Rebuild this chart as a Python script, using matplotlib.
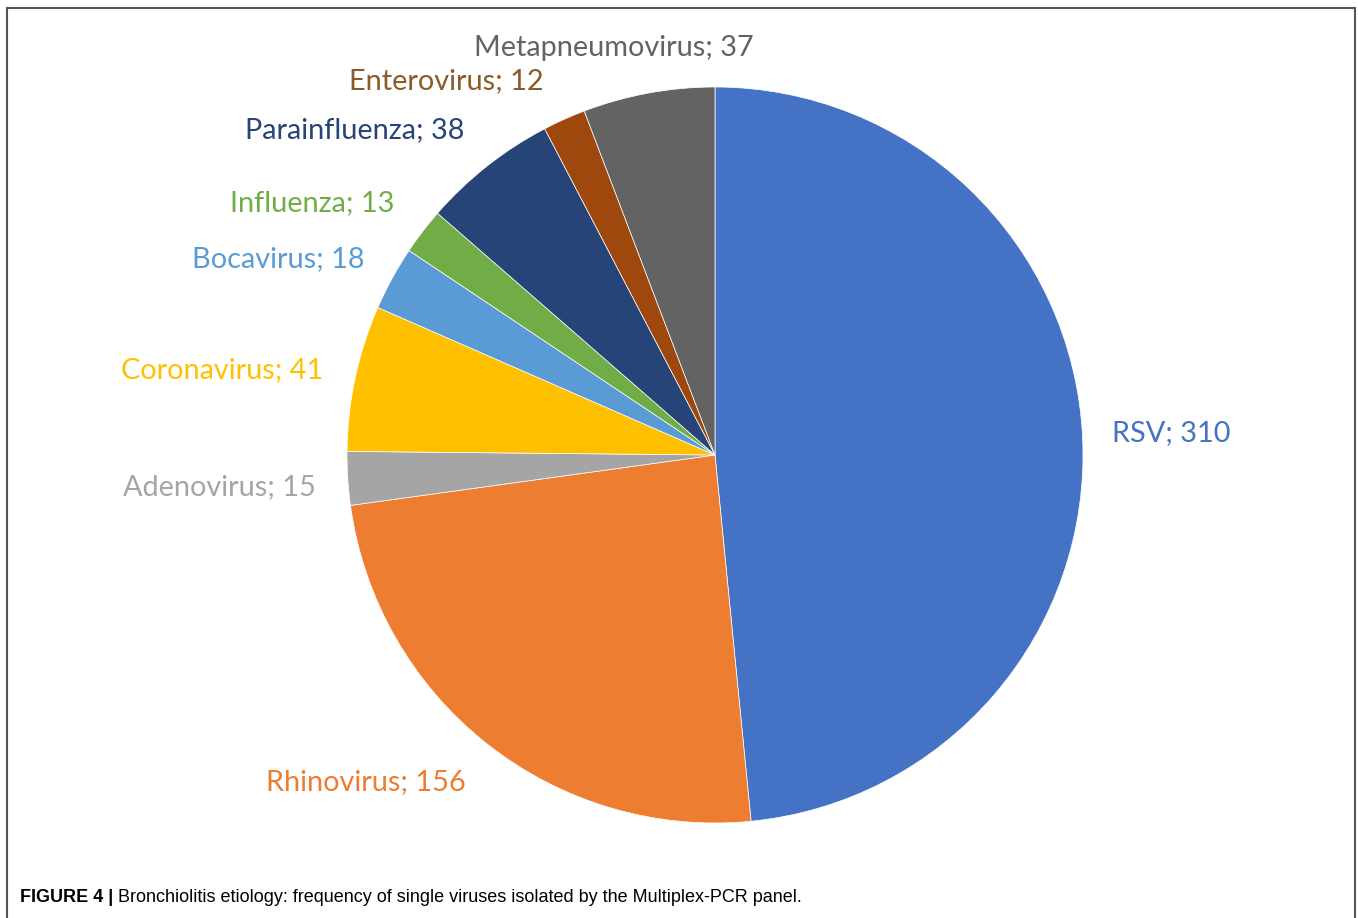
import matplotlib
matplotlib.use('Agg')
import matplotlib.pyplot as plt
import matplotlib.patches as mpatches
import numpy as np

# data (clockwise from 12 o'clock)
viruses = ['RSV', 'Rhinovirus', 'Adenovirus', 'Coronavirus', 'Bocavirus',
           'Influenza', 'Parainfluenza', 'Enterovirus', 'Metapneumovirus']
counts = [310, 156, 15, 41, 18, 13, 38, 12, 37]

colors = ['#4472C4', '#ED7D31', '#A5A5A5', '#FFC000', '#5B9BD5',
          '#70AD47', '#264478', '#9E480E', '#636363']
label_colors = ['#4472C4', '#ED7D31', '#A5A5A5', '#FFC000', '#5B9BD5',
                '#70AD47', '#264478', '#8B5A2B', '#636363']
# label placement (radius factor, angle nudge in degrees) - layout only
label_r = [1.24, 1.30, 1.35, 1.36, 1.30, 1.29, 1.32, 1.25, 1.14]
label_da = [0, -8.7, 0, 2.3, 4.5, 5.4, 9.7, 11.5, 3.5]

W, H = 1358, 918
fig = plt.figure(figsize=(W / 100, H / 100), dpi=100)

cx, cy, R = 715, 455, 368
lim = 1.5
size = R * 2 * lim
ax = fig.add_axes([(cx - size / 2) / W, (H - cy - size / 2) / H, size / W, size / H])

wedges, _ = ax.pie(counts, colors=colors, startangle=90, counterclock=False,
                   radius=1.0, wedgeprops=dict(edgecolor='white', linewidth=0.5))
ax.set_xlim(-lim, lim)
ax.set_ylim(-lim, lim)
ax.set_aspect('equal')
ax.axis('off')

for i, w in enumerate(wedges):
    mid = np.deg2rad((w.theta1 + w.theta2) / 2 + label_da[i])
    x = label_r[i] * np.cos(mid)
    y = label_r[i] * np.sin(mid)
    ax.text(x, y, f'{viruses[i]}; {counts[i]}', color=label_colors[i],
            fontsize=20.8, family=['Lato', 'DejaVu Sans'], ha='center', va='center',
            clip_on=False)

# border of the figure panel
border = mpatches.Rectangle((7 / W, -0.05), (1355 - 7) / W, 1 - 8 / H + 0.05,
                            transform=fig.transFigure, fill=False,
                            edgecolor='#555555', linewidth=1.5)
fig.patches.append(border)

cap_font = ['Liberation Sans', 'DejaVu Sans']
t1 = fig.text(20 / W, 1 - 898 / H, 'FIGURE 4 |', fontsize=13, fontweight='bold',
              family=cap_font, va='center', ha='left')
fig.canvas.draw()
ax.annotate(' Bronchiolitis etiology: frequency of single viruses isolated by the Multiplex-PCR panel.',
            xy=(1, 0.5), xycoords=t1, va='center', ha='left',
            fontsize=13, family=cap_font, annotation_clip=False)

fig.savefig('out.png', dpi=100)
